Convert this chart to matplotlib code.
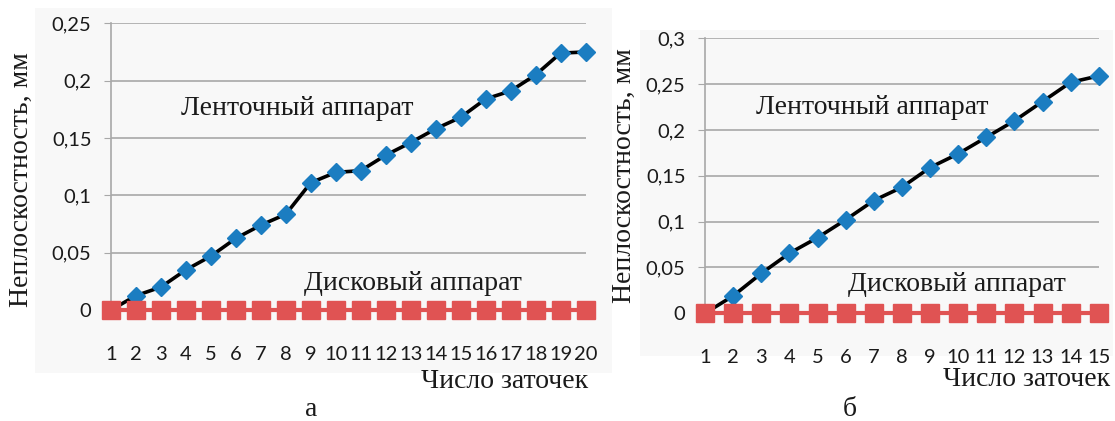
import numpy as np
import matplotlib
matplotlib.use("Agg")
import matplotlib.pyplot as plt
from matplotlib.patches import Rectangle
from matplotlib.ticker import FuncFormatter

# Неплоскостность после заточки, мм
sharp_a = np.arange(1, 21)
belt_a = [0, 0.0125, 0.020, 0.035, 0.047, 0.0625, 0.074, 0.0835, 0.111, 0.120,
          0.1215, 0.135, 0.146, 0.158, 0.168, 0.184, 0.191, 0.205, 0.224, 0.225]
disc_a = [0] * 20

sharp_b = np.arange(1, 16)
belt_b = [0, 0.019, 0.0435, 0.0655, 0.0825, 0.102, 0.123, 0.1375, 0.159, 0.174,
          0.192, 0.210, 0.231, 0.252, 0.259]
disc_b = [0] * 15

ylabel = "Неплоскостность, мм"
xlabel = "Число заточек"
belt_name = "Ленточный аппарат"
disc_name = "Дисковый аппарат"

W, H = 1115, 421
SERIF = "Liberation Serif"
SANS = "Lato"
BLUE = "#1b7dc1"
RED = "#e05353"
GRID = "#a8a8a8"
INK = "#1a1a1a"
FS = 20

plt.rcParams["font.family"] = SANS

fig = plt.figure(figsize=(W / 100, H / 100), dpi=100)


def px_box(x0, y0, x1, y1):
    # pixel box (top-left origin) -> figure fraction rect
    return [x0 / W, 1 - y1 / H, (x1 - x0) / W, (y1 - y0) / H]


def comma(v, pos):
    s = ("%.2f" % v).rstrip("0").rstrip(".")
    return s.replace(".", ",")


def panel(bg, axbox, x, belt, disc, ymax, ystep, belt_xy, disc_xy,
          xlab_xy, ylab_xy, letter_xy, letter):
    fig.patches.append(Rectangle(bg[:2], bg[2], bg[3], transform=fig.transFigure,
                                 facecolor="#f8f8f8", edgecolor="none", zorder=-5))
    ax = fig.add_axes(px_box(*axbox))
    ax.set_zorder(1)
    ax.patch.set_alpha(0)
    ax.plot(x, belt, color="black", lw=2.6, marker="D", ms=9.5,
            mfc=BLUE, mec=BLUE, clip_on=False, zorder=3)
    ax.plot(x, disc, color=RED, lw=3, marker="s", ms=13,
            mfc=RED, mec=RED, clip_on=False, zorder=4)
    ax.set_xlim(1, len(x))
    ax.set_ylim(0, ymax)
    ax.set_yticks(np.arange(0, ymax + 1e-9, ystep))
    ax.yaxis.set_major_formatter(FuncFormatter(comma))
    ax.set_xticks(x)
    ax.set_xticklabels([str(v) for v in x])
    ax.grid(axis="y", color=GRID, lw=1.2)
    ax.set_axisbelow(True)
    for s in ["top", "right"]:
        ax.spines[s].set_visible(False)
    ax.spines["left"].set_color(GRID)
    ax.spines["left"].set_linewidth(1.2)
    ax.spines["bottom"].set_color(GRID)
    ax.tick_params(axis="y", direction="out", length=5, color=GRID, pad=9,
                   labelsize=14.5, labelcolor=INK)
    ax.tick_params(axis="x", direction="out", length=4, color=GRID, pad=22,
                   labelsize=14.5, labelcolor=INK)
    ax.text(*belt_xy, belt_name, fontsize=FS, family=SERIF, color=INK,
            ha="left", va="center")
    ax.text(*disc_xy, disc_name, fontsize=FS, family=SERIF, color=INK,
            ha="left", va="center")
    fig.text(xlab_xy[0] / W, 1 - xlab_xy[1] / H, xlabel, fontsize=FS,
             family=SERIF, color=INK, ha="right", va="center")
    fig.text(ylab_xy[0] / W, 1 - ylab_xy[1] / H, ylabel, fontsize=FS,
             family=SERIF, color=INK, ha="center", va="center", rotation=90)
    fig.text(letter_xy[0] / W, 1 - letter_xy[1] / H, letter, fontsize=FS,
             family=SERIF, color=INK, ha="center", va="center")
    return ax


panel(px_box(35, 8, 612, 373), (111, 23.3, 585.5, 310), sharp_a, belt_a, disc_a,
      0.25, 0.05, (3.8, 0.176), (8.73, 0.0235), (588, 381), (21, 180),
      (311, 409), "а")
panel(px_box(640, 30, 1113, 356), (705, 38.3, 1098.8, 313.3), sharp_b, belt_b,
      disc_b, 0.3, 0.05, (2.81, 0.224), (6.09, 0.031), (1110, 379), (624, 176),
      (850, 409), "б")

fig.savefig("out.png", dpi=100, facecolor="white")
